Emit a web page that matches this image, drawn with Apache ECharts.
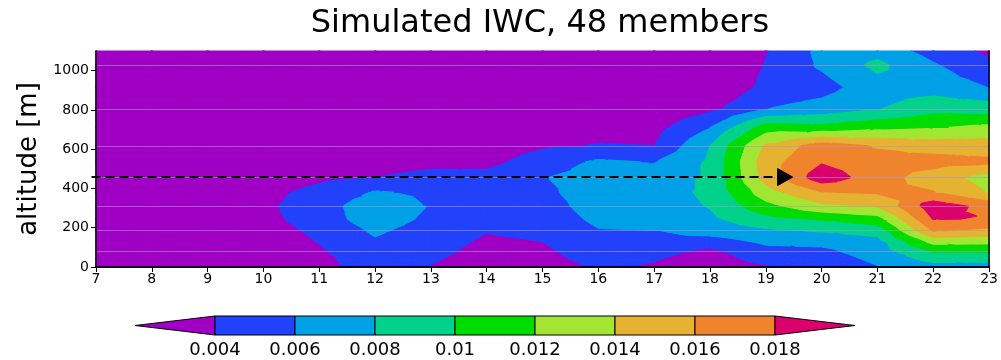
<!DOCTYPE html>
<html><head><meta charset="utf-8">
<script src="https://cdn.jsdelivr.net/npm/echarts@6/dist/echarts.min.js"></script>
<style>html,body{margin:0;padding:0;background:#fff}#c{width:1001px;height:360px}</style>
</head><body><div id="c"></div>
<script>
// ---- data ----
const hours = [7,8,9,10,11,12,13,14,15,16,17,18,19,20,21,22,23];
const levels = [0,40,78,130,186,245,309,380,456,536,617,711,805,917,1029,1100];
// IWC per hour column, one value per level (bottom -> top)
const iwc_07 = [0.0020,0.0020,0.0020,0.0020,0.0020,0.0020,0.0020,0.0020,0.0020,0.0020,0.0020,0.0020,0.0020,0.0020,0.0020,0.0020];
const iwc_08 = [0.0020,0.0020,0.0020,0.0021,0.0022,0.0023,0.0024,0.0023,0.0022,0.0021,0.0020,0.0020,0.0020,0.0020,0.0020,0.0020];
const iwc_09 = [0.0020,0.0020,0.0021,0.0022,0.0024,0.0026,0.0028,0.0027,0.0025,0.0022,0.0020,0.0020,0.0020,0.0020,0.0020,0.0020];
const iwc_10 = [0.0020,0.0020,0.0022,0.0025,0.0030,0.0034,0.0036,0.0034,0.0028,0.0024,0.0021,0.0020,0.0020,0.0020,0.0020,0.0020];
const iwc_11 = [0.0030,0.0033,0.0037,0.0041,0.0045,0.0050,0.0051,0.0046,0.0036,0.0030,0.0025,0.0022,0.0020,0.0020,0.0020,0.0020];
const iwc_12 = [0.0055,0.0055,0.0056,0.0058,0.0063,0.0070,0.0072,0.0062,0.0040,0.0033,0.0028,0.0023,0.0020,0.0020,0.0020,0.0020];
const iwc_13 = [0.0039,0.0042,0.0045,0.0048,0.0052,0.0056,0.0059,0.0056,0.0045,0.0035,0.0030,0.0025,0.0021,0.0020,0.0020,0.0020];
const iwc_14 = [0.0030,0.0032,0.0034,0.0037,0.0041,0.0045,0.0050,0.0052,0.0046,0.0034,0.0029,0.0025,0.0022,0.0020,0.0020,0.0020];
const iwc_15 = [0.0032,0.0034,0.0036,0.0040,0.0045,0.0049,0.0052,0.0056,0.0059,0.0050,0.0037,0.0030,0.0025,0.0022,0.0020,0.0020];
const iwc_16 = [0.0042,0.0046,0.0051,0.0055,0.0059,0.0064,0.0068,0.0069,0.0068,0.0063,0.0041,0.0033,0.0027,0.0022,0.0020,0.0020];
const iwc_17 = [0.0038,0.0041,0.0046,0.0053,0.0060,0.0066,0.0071,0.0073,0.0070,0.0059,0.0040,0.0033,0.0027,0.0022,0.0020,0.0020];
const iwc_18 = [0.0030,0.0032,0.0035,0.0050,0.0070,0.0076,0.0081,0.0083,0.0083,0.0083,0.0080,0.0060,0.0035,0.0020,0.0020,0.0020];
const iwc_19 = [0.0038,0.0046,0.0053,0.0064,0.0077,0.0094,0.0113,0.0131,0.0148,0.0151,0.0143,0.0109,0.0060,0.0045,0.0041,0.0039];
const iwc_20 = [0.0045,0.0050,0.0055,0.0066,0.0082,0.0102,0.0135,0.0159,0.0192,0.0178,0.0170,0.0106,0.0068,0.0052,0.0063,0.0065];
const iwc_21 = [0.0059,0.0064,0.0069,0.0073,0.0089,0.0112,0.0141,0.0162,0.0169,0.0167,0.0158,0.0114,0.0079,0.0072,0.0085,0.0072];
const iwc_22 = [0.0072,0.0086,0.0101,0.0127,0.0162,0.0181,0.0192,0.0161,0.0150,0.0168,0.0151,0.0118,0.0093,0.0071,0.0062,0.0052];
const iwc_23 = [0.0073,0.0084,0.0101,0.0126,0.0155,0.0179,0.0173,0.0139,0.0131,0.0164,0.0150,0.0125,0.0090,0.0060,0.0044,0.0036];
const columns = [iwc_07,iwc_08,iwc_09,iwc_10,iwc_11,iwc_12,iwc_13,iwc_14,iwc_15,iwc_16,iwc_17,iwc_18,iwc_19,iwc_20,iwc_21,iwc_22,iwc_23];

const thresholds = [0.004,0.006,0.008,0.010,0.012,0.014,0.016,0.018];
const bandColors = ['#9f00c4','#2241fb','#00a0e6','#00d28c','#00dc00','#a2e633','#e6b232','#f0842d','#dc006c'];
const cbEdges = [0.002,0.004,0.006,0.008,0.010,0.012,0.014,0.016,0.018,0.020];
const modelLevels = [78,186,309,456,617,805,1029];
const yTicks = [0,200,400,600,800,1000];
// dashed arrow annotation: [start hour, tip hour, altitude]
const arrowStartHour = 6.92, arrowTipHour = 19.48, arrowAltitude = 458;

// ---- build cell table for the library ----
const cells = [];
for (let i = 0; i < hours.length - 1; i++) {
  for (let j = 0; j < levels.length - 1; j++) {
    cells.push([hours[i], levels[j], hours[i+1], levels[j+1],
      columns[i][j], columns[i+1][j], columns[i][j+1], columns[i+1][j+1]]);
  }
}
const cbData = [];
for (let k = 0; k < bandColors.length; k++) cbData.push([cbEdges[k], cbEdges[k+1], k]);

function clipHalf(poly, keepAbove, t) {
  const res = [];
  for (let i = 0; i < poly.length; i++) {
    const a = poly[i], b = poly[(i+1) % poly.length];
    const ia = keepAbove ? a[2] >= t : a[2] <= t;
    const ib = keepAbove ? b[2] >= t : b[2] <= t;
    if (ia) res.push(a);
    if (ia !== ib) {
      const f = (t - a[2]) / (b[2] - a[2]);
      res.push([a[0] + f*(b[0]-a[0]), a[1] + f*(b[1]-a[1]), t]);
    }
  }
  return res;
}

function renderCell(params, api) {
  const p00 = api.coord([api.value(0), api.value(1)]);
  const p10 = api.coord([api.value(2), api.value(1)]);
  const p01 = api.coord([api.value(0), api.value(3)]);
  const p11 = api.coord([api.value(2), api.value(3)]);
  const a = [p00[0], p00[1], api.value(4)];
  const b = [p10[0], p10[1], api.value(5)];
  const c = [p01[0], p01[1], api.value(6)];
  const d = [p11[0], p11[1], api.value(7)];
  const m = [(a[0]+b[0]+c[0]+d[0])/4, (a[1]+b[1]+c[1]+d[1])/4, (a[2]+b[2]+c[2]+d[2])/4];
  const tris = [[a,b,m],[b,d,m],[d,c,m],[c,a,m]];
  const children = [];
  for (const tri of tris) {
    for (let k = 0; k < bandColors.length; k++) {
      let poly = tri;
      if (k > 0) poly = clipHalf(poly, true, thresholds[k-1]);
      if (poly.length >= 3 && k < bandColors.length - 1) poly = clipHalf(poly, false, thresholds[k]);
      if (poly.length >= 3) {
        children.push({type:'polygon', silent:true,
          shape:{points: poly.map(p => [p[0], p[1]])},
          style:{fill: bandColors[k], stroke: bandColors[k], lineWidth: 1.1, lineJoin:'round'}});
      }
    }
  }
  return {type:'group', children};
}

function renderArrow(params, api) {
  const s = api.coord([api.value(0), api.value(2)]);
  const t = api.coord([api.value(1), api.value(2)]);
  const headLen = 15, headHalf = 8.5;
  const base = [t[0] - headLen, t[1]];
  return {type:'group', children:[
    {type:'line', shape:{x1:s[0], y1:s[1], x2:base[0], y2:base[1]},
      style:{stroke:'#000', lineWidth:2, lineDash:[9,5]}},
    {type:'polygon', shape:{points:[[t[0], t[1]], [base[0], base[1]-headHalf], [base[0], base[1]+headHalf]]},
      style:{fill:'#000', stroke:'#000', lineWidth:1}}
  ]};
}

function renderBar(params, api) {
  const lo = api.value(0), hi = api.value(1), k = api.value(2);
  let pts;
  if (k === 0) pts = [api.coord([lo,0.5]), api.coord([hi,1]), api.coord([hi,0])];
  else if (k === bandColors.length - 1) pts = [api.coord([lo,1]), api.coord([hi,0.5]), api.coord([lo,0])];
  else pts = [api.coord([lo,1]), api.coord([hi,1]), api.coord([hi,0]), api.coord([lo,0])];
  return {type:'polygon', shape:{points:pts}, style:{fill:bandColors[k], stroke:'#000', lineWidth:1}};
}

const FONT = 'DejaVu Sans';
const chart = echarts.init(document.getElementById('c'), null, {renderer:'canvas'});
chart.setOption({
  animation: false,
  backgroundColor: '#fff',
  textStyle: {fontFamily: FONT},
  title: {text: 'Simulated IWC, 48 members', left: 535, textAlign: 'center', top: 3,
    textStyle: {fontFamily: FONT, fontSize: 32, fontWeight: 'normal', color: '#000'}},
  grid: [
    {left: 96, right: 11, top: 51, bottom: 93},
    {left: 135, right: 146, top: 316, height: 19}
  ],
  xAxis: [
    {gridIndex:0, type:'value', min:7, max:23, interval:1, z:10,
      axisLine:{lineStyle:{color:'#000', width:1.5}},
      axisTick:{length:5, lineStyle:{color:'#000'}},
      axisLabel:{color:'#000', fontSize:14, margin:5, fontFamily:FONT},
      splitLine:{show:false}},
    {gridIndex:1, type:'value', min:0.002, max:0.020, interval:0.002,
      axisLine:{show:false}, axisTick:{show:false}, splitLine:{show:false},
      axisLabel:{color:'#000', fontSize:18, margin:6, fontFamily:FONT,
        customValues: thresholds,
        formatter: v => (thresholds.some(t => Math.abs(t - v) < 1e-9) ? String(+v.toFixed(3)) : '')}},
    {gridIndex:0, type:'value', min:7, max:23, position:'top', z:10,
      axisLine:{lineStyle:{color:'#000', width:1.5}}, axisTick:{show:false},
      axisLabel:{show:false}, splitLine:{show:false}}
  ],
  yAxis: [
    {gridIndex:0, type:'value', min:0, max:1100, interval:200, z:10,
      name:'altitude [m]', nameLocation:'middle', nameGap:52, nameRotate:90,
      nameTextStyle:{fontSize:26, color:'#000', fontFamily:FONT},
      axisLine:{lineStyle:{color:'#000', width:1.5}},
      axisTick:{length:5, lineStyle:{color:'#000'}, customValues: yTicks},
      axisLabel:{color:'#000', fontSize:14, margin:7, fontFamily:FONT, customValues: yTicks,
        formatter: v => (yTicks.indexOf(v) >= 0 ? String(v) : '')},
      splitLine:{show:false}},
    {gridIndex:1, type:'value', min:0, max:1, show:false},
    {gridIndex:0, type:'value', min:0, max:1100, position:'right', z:10,
      axisLine:{lineStyle:{color:'#000', width:1.5}}, axisTick:{show:false},
      axisLabel:{show:false}, splitLine:{show:false}}
  ],
  series: [
    {type:'custom', xAxisIndex:0, yAxisIndex:0, data: cells, renderItem: renderCell,
      encode:{x:[0,2], y:[1,3]}, z:1, silent:true,
      markLine:{silent:true, symbol:'none', label:{show:false},
        lineStyle:{color:'rgba(175,150,205,0.6)', width:1, type:'solid'},
        data: modelLevels.map(v => ({yAxis: v}))}},
    {type:'custom', xAxisIndex:0, yAxisIndex:0, data: [[arrowStartHour, arrowTipHour, arrowAltitude]],
      renderItem: renderArrow, encode:{x:[0,1], y:2}, z:5, clip:false, silent:true},
    {type:'custom', xAxisIndex:1, yAxisIndex:1, data: cbData, renderItem: renderBar,
      encode:{x:[0,1]}, silent:true}
  ]
});
</script>
</body></html>
